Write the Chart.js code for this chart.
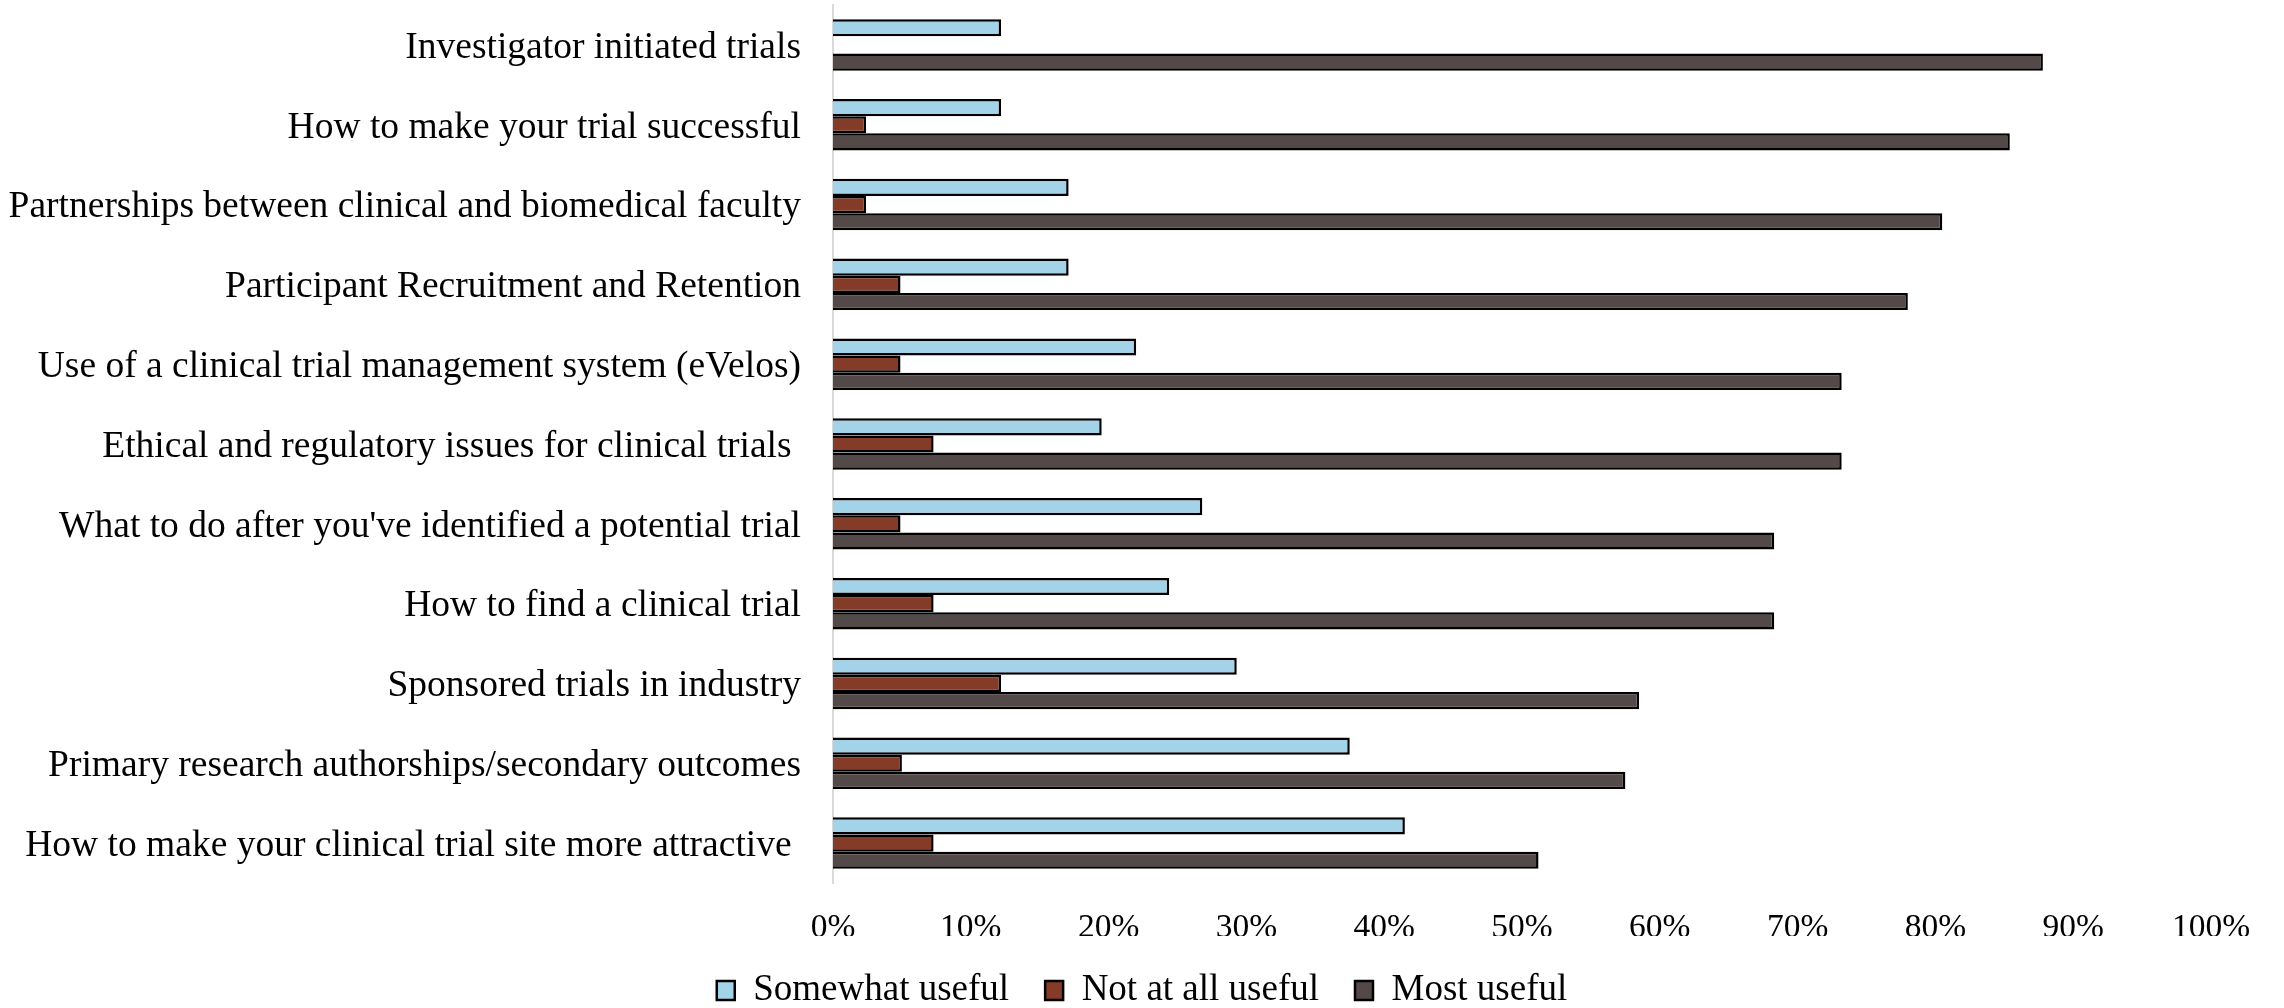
<!DOCTYPE html>
<html>
<head>
<meta charset="utf-8">
<script src="https://cdn.jsdelivr.net/npm/chart.js@4.4.1/dist/chart.umd.min.js"></script>
<style>
  html, body { margin: 0; padding: 0; background: #fff; }
  #wrap { width: 2284px; height: 1008px; }
</style>
</head>
<body>
<div id="wrap"><canvas id="grafica" width="2284" height="1008"></canvas></div>
<script>
// categorias (de arriba a abajo)
const categorias = [
  'Investigator initiated trials',
  'How to make your trial successful',
  'Partnerships between clinical and biomedical faculty',
  'Participant Recruitment and Retention',
  'Use of a clinical trial management system (eVelos)',
  'Ethical and regulatory issues for clinical trials ',
  "What to do after you've identified a potential trial",
  'How to find a clinical trial',
  'Sponsored trials in industry',
  'Primary research authorships/secondary outcomes',
  'How to make your clinical trial site more attractive '
];

// porcentajes
const somewhatUseful = [12.2, 12.2, 17.1, 17.1, 22.0, 19.5, 26.8, 24.4, 29.3, 37.5, 41.5];
const notAtAllUseful = [0, 2.4, 2.4, 4.9, 4.9, 7.3, 4.9, 7.3, 12.2, 5.0, 7.3];
const mostUseful = [87.8, 85.4, 80.5, 78.0, 73.2, 73.2, 68.3, 68.3, 58.5, 57.5, 51.2];

const xTicks = [0, 10, 20, 30, 40, 50, 60, 70, 80, 90, 100];

const fuente = "'Liberation Serif', 'Times New Roman', serif";

const ctx = document.getElementById('grafica').getContext('2d');

new Chart(ctx, {
  type: 'bar',
  data: {
    labels: categorias,
    datasets: [
      {
        label: 'Somewhat useful',
        data: somewhatUseful,
        backgroundColor: '#A3D3E8',
        borderColor: '#000000',
        borderWidth: 2.5
      },
      {
        label: 'Not at all useful',
        data: notAtAllUseful,
        backgroundColor: '#843C29',
        borderColor: '#000000',
        borderWidth: 2.5
      },
      {
        label: 'Most useful',
        data: mostUseful,
        backgroundColor: '#544949',
        borderColor: '#000000',
        borderWidth: 2.5
      }
    ]
  },
  options: {
    indexAxis: 'y',
    responsive: false,
    animation: false,
    datasets: {
      bar: { categoryPercentage: 0.645, barPercentage: 1.0 }
    },
    layout: {
      // el -11 baja la leyenda hasta donde esta en el original
      padding: { top: 5, left: 0, right: 0, bottom: -11 }
    },
    plugins: {
      tooltip: { enabled: false },
      legend: {
        position: 'bottom',
        labels: {
          color: '#000',
          boxWidth: 18,
          boxHeight: 19,
          padding: 36,
          font: { family: fuente, size: 37 }
        }
      }
    },
    scales: {
      x: {
        min: 0,
        max: 100,
        afterBuildTicks: axis => {
          axis.ticks = xTicks.map(v => ({ value: v }));
        },
        afterFit: axis => {
          axis.height = 53;
          axis.paddingRight = 73;
        },
        grid: { display: false, drawTicks: false },
        border: { display: false },
        ticks: {
          color: '#000',
          padding: 25,
          maxRotation: 0,
          font: { family: fuente, size: 33.5 },
          callback: value => `${value}%`
        }
      },
      y: {
        afterFit: axis => {
          axis.width = 833;
          axis.paddingTop = 0;
          axis.paddingBottom = 0;
        },
        grid: { display: false, drawTicks: false },
        border: { display: true, color: '#D9D9D9', width: 2 },
        ticks: {
          color: '#000',
          padding: 32,
          labelOffset: 3,
          font: { family: fuente, size: 37.5 }
        }
      }
    }
  }
});
</script>
</body>
</html>
